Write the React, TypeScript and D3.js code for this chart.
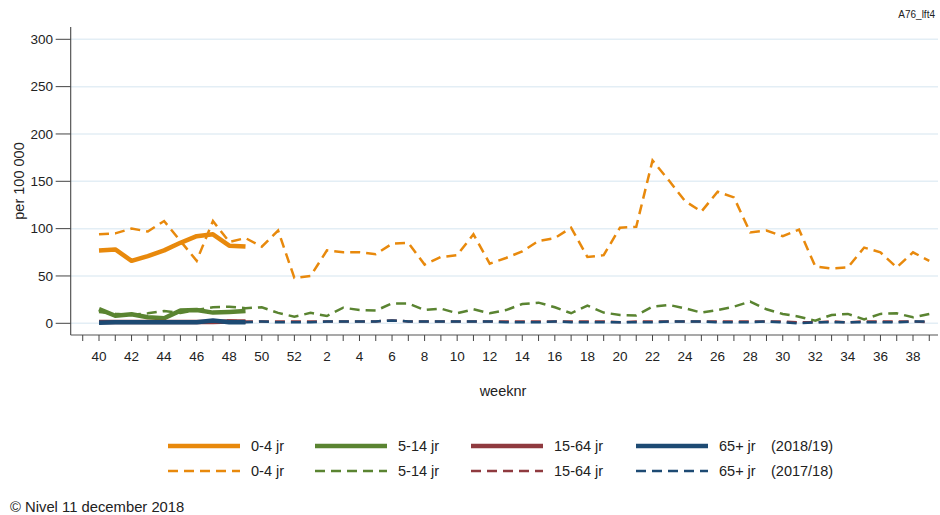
import React from 'react';
import * as d3 from 'd3';

// week numbers on the x axis (2017/18 season runs wk40 .. wk39)
const weeks = [40, 41, 42, 43, 44, 45, 46, 47, 48, 49, 50, 51, 52, 1, 2, 3, 4, 5, 6, 7, 8, 9, 10, 11, 12, 13, 14, 15, 16, 17, 18, 19, 20, 21, 22, 23, 24, 25, 26, 27, 28, 29, 30, 31, 32, 33, 34, 35, 36, 37, 38, 39];
const yTicks = [0, 50, 100, 150, 200, 250, 300];

// 2018/19 (solid, weeks 40-49)
const age04_1819 = [77, 78, 66, 71, 77, 85, 92, 94, 82, 81];
const age514_1819 = [15, 8, 9.5, 6.3, 5.3, 13.4, 14, 11.3, 12, 13];
const age1564_1819 = [1.5, 1.5, 1.5, 1.5, 1.5, 1.5, 1.5, 1.5, 2, 2];
const age65_1819 = [0.5, 1, 1, 1, 1, 1, 1, 3, 1, 1];

// 2017/18 (dashed, full season)
const age04_1718 = [94, 95, 100, 97, 108, 87, 66, 108, 86, 90, 81, 98, 48, 50, 77, 75, 75, 73, 84, 85, 62, 70, 72, 94, 63, 69, 76, 87, 90, 101, 70, 72, 101, 102, 172, 151, 129, 118, 139, 133, 96, 98, 92, 99, 60, 58, 59, 80, 75, 59, 75, 66];
const age514_1718 = [12, 10, 9, 10.5, 13, 11, 14, 17, 17.6, 16, 17, 11, 7, 11, 7.7, 16.5, 14, 13.4, 21, 21, 14, 15.5, 10.6, 14.8, 10.6, 14, 20.4, 21.8, 17, 10.6, 18.7, 11.3, 8.8, 8.3, 17.6, 19.4, 15.8, 11.3, 14, 17.6, 22.9, 14.8, 9.9, 7, 2.8, 8.8, 9.9, 4.2, 9.9, 10.6, 6.3, 9.9];
const age1564_1718 = [2, 2, 2, 2, 2, 2, 2, 2, 3, 2, 2, 2, 2, 2, 2, 2, 2, 2, 3, 2, 2, 2, 2, 2, 2, 2, 2, 2, 2, 2, 2, 2, 1, 2, 2, 2, 2, 2, 2, 2, 2, 2, 2, 1, 1, 2, 1, 2, 2, 2, 2, 1];
const age65_1718 = [1, 1, 1, 1, 1, 1, 1, 1, 2, 1, 2, 1, 1, 1, 2, 2, 2, 2, 3, 2, 2, 2, 2, 2, 2, 1, 1, 1, 2, 1, 1, 1, 1, 1, 1, 2, 2, 2, 1, 1, 1, 2, 1, 0, 1, 1, 1, 1, 1, 1, 2, 2];

const groups = ['0-4 jr', '5-14 jr', '15-64 jr', '65+ jr'];
const colors = ['#E8890C', '#5A8431', '#8F3A3F', '#1D4A73'];

const font = '"Liberation Sans", Arial, sans-serif';

export default function App() {
  const x = d3.scaleLinear().domain([0, 50]).range([99, 913]);
  const y = d3.scaleLinear().domain([0, 300]).range([323.3, 39.3]);
  const axisLeft = x(-1.74);
  const axisRight = 938;
  const axisY = 335;

  const line = d3.line<number>().x((d, i) => x(i)).y((d) => y(d));

  const current = [age04_1819, age514_1819, age1564_1819, age65_1819];
  const previous = [age04_1718, age514_1718, age1564_1718, age65_1718];

  const legendX = [168, 315, 471, 636];

  return (
    <svg width={940} height={515} style={{ position: 'absolute', left: 0, top: 0, background: '#fff' }}>
      <rect width={940} height={515} fill="#fff" />
      <text x={935} y={18} fontSize={10} fontFamily={font} textAnchor="end" fill="#222">A76_lft4</text>

      {/* grid */}
      {yTicks.map((t) => (
        <line key={'g' + t} x1={axisLeft} x2={axisRight} y1={y(t)} y2={y(t)} stroke="#E3EEF5" strokeWidth={1.5} />
      ))}

      {/* y axis */}
      <line x1={axisLeft} x2={axisLeft} y1={27} y2={axisY} stroke="#555" strokeWidth={1.2} />
      {yTicks.map((t) => (
        <g key={'y' + t}>
          <line x1={axisLeft - 15} x2={axisLeft} y1={y(t)} y2={y(t)} stroke="#444" />
          <text x={53} y={y(t)} dy="0.35em" fontSize={13.5} fontFamily={font} textAnchor="end" fill="#222">{t}</text>
        </g>
      ))}
      <text transform={`translate(24,${181}) rotate(-90)`} fontSize={14.5} fontFamily={font} textAnchor="middle" fill="#222">per 100 000</text>

      {/* x axis */}
      <line x1={axisLeft} x2={axisRight} y1={axisY} y2={axisY} stroke="#555" strokeWidth={1.2} />
      {d3.range(-1, 52).map((i) => (
        <line key={'xt' + i} x1={x(i)} x2={x(i)} y1={axisY} y2={axisY + 6} stroke="#444" />
      ))}
      {weeks.map((w, i) => (i % 2 === 0 ? (
        <text key={'xl' + i} x={x(i)} y={361} fontSize={13.5} fontFamily={font} textAnchor="middle" fill="#222">{w}</text>
      ) : null))}
      <text x={503} y={396} fontSize={14.5} fontFamily={font} textAnchor="middle" fill="#222">weeknr</text>

      {/* 2017/18 dashed */}
      {previous.map((s, k) => (
        <path key={'p' + k} d={line(s) || ''} fill="none" stroke={colors[k]} strokeWidth={2.5} strokeDasharray="10,6" />
      ))}
      {/* 2018/19 solid */}
      {current.map((s, k) => (
        <path key={'c' + k} d={line(s) || ''} fill="none" stroke={colors[k]} strokeWidth={4.5} strokeLinejoin="round" />
      ))}

      {/* legend */}
      {groups.map((g, k) => (
        <g key={'l' + k}>
          <line x1={legendX[k]} x2={legendX[k] + 72} y1={446} y2={446} stroke={colors[k]} strokeWidth={4.5} />
          <text x={legendX[k] + 83} y={446} dy="0.35em" fontSize={14.5} fontFamily={font} fill="#222">{g}</text>
          <line x1={legendX[k]} x2={legendX[k] + 72} y1={471} y2={471} stroke={colors[k]} strokeWidth={2.5} strokeDasharray="10,6" />
          <text x={legendX[k] + 83} y={471} dy="0.35em" fontSize={14.5} fontFamily={font} fill="#222">{g}</text>
        </g>
      ))}
      <text x={771} y={446} dy="0.35em" fontSize={14.5} fontFamily={font} fill="#222">(2018/19)</text>
      <text x={771} y={471} dy="0.35em" fontSize={14.5} fontFamily={font} fill="#222">(2017/18)</text>

      <text x={10} y={512} fontSize={14.8} fontFamily={font} fill="#222">© Nivel 11 december 2018</text>
    </svg>
  );
}
